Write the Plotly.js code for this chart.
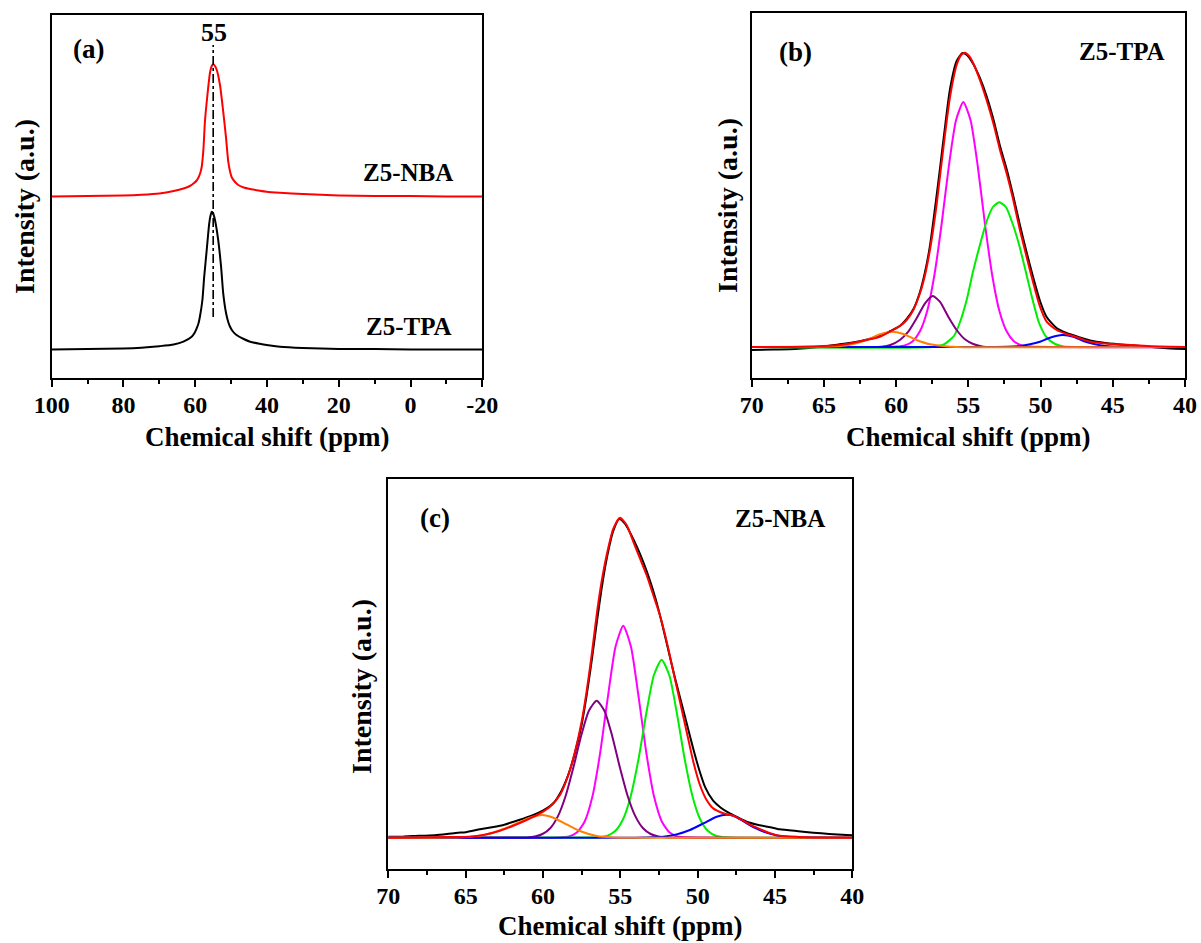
<!DOCTYPE html>
<html><head><meta charset="utf-8">
<script src="https://cdn.plot.ly/plotly-3.0.1.min.js"></script>
<style>html,body{margin:0;padding:0;background:#fff}#chart{width:1201px;height:943px}</style>
</head><body><div id="chart"></div>
<script>
// ---------- Panel (a): full spectra ----------
const aNbaX = [100,90,80,75,70,66,63.3,61.5,60.5,59.6,59.1,58.6,58.2,57.7,57.3,56.6,55.9,55.4,55.0,54.5,54.0,53.1,52.2,51.4,50.8,50.2,49.8,48.9,48.0,46.5,44.7,42,40.1,36.4,30,20,10,0,-10,-20];
const aNbaY = [181.5,182,182.5,183.2,184.5,187,189.5,192,194.5,197.5,200.5,205,211,229.7,256.3,283,305,312,313.7,312,308,293,266.3,239.7,216.3,205,200.5,196,193,190.5,189,187.3,186.3,185.3,184,182.5,182,182,181.5,181.5];
const aTpaX = [100,90,80,75,70,66,63.3,61.0,60.2,59.6,59.1,58.7,58.0,57.5,56.8,56.1,55.7,55.4,55.0,54.5,53.6,52.8,52.2,51.4,50.8,50.3,49.5,48.5,46.5,44.7,42,40.1,36.4,30,20,10,0,-10,-20];
const aTpaY = [28.5,29,29.5,30.3,31.8,33.5,36.3,41.3,45,49.7,54.5,61.3,78,101.3,128,154.7,163,166.3,164.5,158,138,111.3,84.7,64.7,56,51.3,46.5,43,39,36.3,34.2,33,31.3,30,29,29,28.5,28.5,28.5];
const aMarkX = [55,55];
const aMarkY = [61,333];
const aTickVals = [100,80,60,40,20,0,-20];
const aTickText = ['100','80','60','40','20','0','-20'];

// ---------- Panel (b): Z5-TPA deconvolution ----------
const bExpX = [70,68.5,67,66,65,64,63,62,61.1,60.4,59.7,59.27,58.8,58.35,58.0,57.66,57.2,56.97,56.6,56.27,55.81,55.4,55.1,54.66,54.2,53.74,53.27,52.81,52.35,51.89,51.43,50.97,50.5,50.04,49.58,48.89,48.2,47.27,46.58,45.5,44,43,42,41,40];
const bExpY = [-3,-2.5,-2,-1,0.5,2.5,4.5,7.5,11,16,21.5,28,38,55,75,101,151,178,222,258,286,294,292,283,269,251,228,201,178,151,122,95,69,46,30,19,14,9.5,6.5,4,2,1,-0.5,-1.5,-2];
const bFitX = [70,68,66.5,65,63.89,62.97,62.04,61.12,60.43,59.74,59.27,58.81,58.35,58.0,57.66,57.43,57.2,56.97,56.62,56.27,55.81,55.5,55.24,54.95,54.66,54.20,53.74,53.27,52.81,52.35,51.89,51.43,50.97,50.5,50.04,49.58,48.89,48.2,47.27,46.58,45.5,44.04,42.3,41,40];
const bFitY = [0,0,0.3,1,2,4.3,7,10.3,15.3,21,27,37,53.7,72,97,118,142,170,212,250,282,292,294.3,291,283.7,267,247,223.7,197,173.7,147,117,90.3,63.7,40.3,25.3,17,13,8.7,5.3,3.5,2.2,0.7,0.2,0];
const bMagX = [70,60,59.35,58.85,58.35,57.85,57.35,56.85,56.35,55.85,55.35,54.85,54.35,53.85,53.35,52.85,52.35,51.85,51.35,50.7,40];
const bMagY = [0,0.4,1.9,5.8,15.7,36,72,123,181,227,245,227,181,123,72,36,15.7,5.8,1.9,0.4,0];
const bGrnX = [70,57.5,56.7,56.0,55.6,55.1,54.7,54.2,53.75,53.3,52.86,52.4,52.0,51.5,51.0,50.6,50.1,49.6,49.0,48.4,47.5,40];
const bGrnY = [0,0,2.5,11,24,48,74,102,125,140,144.7,140,126,103,74,50,24,10,3,0.5,0,0];
const bPurX = [70,62,61.0,60.4,59.74,59.16,58.58,58.0,57.47,56.97,56.39,55.81,55.24,54.66,53.97,53,40];
const bPurY = [0,0,0.3,2,7,15.3,28.7,43.7,51,45.3,30.3,17,7.7,3,0.3,0,0];
const bBluX = [70,53.5,52.35,51.43,50.73,50.04,49.35,48.5,47.73,47.04,46.3,45.5,44.5,40];
const bBluY = [0,0,0.2,1,2.7,5.3,9.3,12,10.3,6,3,1,0.2,0];
const bOrgX = [70,66,63.89,62.97,62.04,61.12,60.31,59.5,58.58,57.66,56.74,55.81,40];
const bOrgY = [0,0.2,1,3,7,12.7,15.3,13,7,2.7,1,0,0];
const bcTickVals = [70,65,60,55,50,45,40];
const bcTickText = ['70','65','60','55','50','45','40'];

// ---------- Panel (c): Z5-NBA deconvolution ----------
const cExpX = [70,69,68.4,67,66.2,65.5,65,64.07,63.3,62.5,61.9,61.2,60.5,59.9,59.3,58.8,58.36,57.93,57.5,57.18,56.85,56.53,56.21,55.88,55.45,55.07,54.7,54.3,53.9,53.5,53.1,52.7,52.3,51.9,51.5,51.1,50.7,50.3,49.9,49.5,49.0,48.5,48.0,47.5,46.83,46,45.3,44.69,43.5,42.52,41.5,40.36,40];
const cExpY = [1,1.3,1.7,2.5,3.7,5,5.5,8.4,10.5,13,16,19.5,23.5,28,35,47,63,85,113,142,177,214,249,279,307,318.7,314,303,290,275,258,238,214,188,162,138,114,90,68,50,37,30,25,21,16,12.5,10.5,8.4,6.5,5,3.8,2.7,2.5];
const cFitX = [70,68,66,64.72,63.86,62.78,61.92,61.06,60.19,59.55,58.90,58.36,57.93,57.50,57.18,56.85,56.53,56.21,55.88,55.45,55.02,54.59,54.16,53.73,53.30,52.87,52.44,52.0,51.57,51.14,50.71,50.28,49.85,49.42,48.99,48.34,47.69,47.05,46.40,45.76,45.32,44.69,43.5,42.5,40];
const cFitY = [0,0.3,0.7,1,2.7,7,12,17.7,24.3,31,42.7,62.7,86,116,146,182.7,222.7,256,282.7,309,320,312.7,296,279.3,262.7,242.7,222.7,196,166,136,106,76,52.7,37.7,29.3,24.5,22,17,11.5,7.2,4.6,2,0.8,0.3,0];
const cMagX = [70,59,58.31,57.81,57.31,56.81,56.31,55.81,55.31,54.81,54.31,53.81,53.31,52.81,52.31,51.81,51.31,50.6,40];
const cMagY = [0,0.2,1.3,5.1,16,40.6,84,140,191,212,191,140,84,40.6,16,5.1,1.3,0.2,0];
const cGrnX = [70,56.8,56.33,55.83,55.33,54.83,54.33,53.83,53.33,52.83,52.33,51.83,51.33,50.83,50.33,49.83,49.33,48.83,48.3,40];
const cGrnY = [0,0.2,0.5,2,6.7,18.2,41.3,78,123.5,162.5,178,162.5,123.5,78,41.3,18.2,6.7,2,0.5,0];
const cPurX = [70,61.5,61.03,60.53,60.03,59.53,59.03,58.53,58.03,57.53,57.03,56.53,56.03,55.53,55.03,54.53,54.03,53.53,53.03,52.53,52.03,51.5,40];
const cPurY = [0,0.1,0.3,1.2,3.7,9.5,21.6,42,70.4,102,127,137,127,102,70.4,42,21.6,9.5,3.7,1.2,0.3,0.1,0];
const cBluX = [70,54,53.51,52.22,51.36,50.5,49.63,48.77,48.13,47.6,47.0,46.4,45.8,45.3,44.7,44,43,40];
const cBluY = [0,0,0.2,1,3.3,7.7,14.3,21,23,21.5,16,10.5,6.5,4,1.7,0.7,0.2,0];
const cOrgX = [70,66,64.72,63.64,62.57,61.70,60.84,60.05,59.33,58.47,57.61,56.53,55.45,54,40];
const cOrgY = [0,0.2,1,3.3,8.7,14.3,20,22.7,20,13.3,6.7,1.7,0.3,0,0];

const FONT = 'Liberation Serif, Times New Roman, serif';
const RED = '#ff0000', MAG = '#ff00ff', GRN = '#00ee00', PUR = '#800080', BLU = '#0000ff', ORG = '#ff8000';

function tr(x, y, color, ax, w) {
  return {x: x, y: y, type: 'scatter', mode: 'lines', xaxis: 'x' + ax, yaxis: 'y' + ax,
    line: {color: color, width: w || 2, shape: 'spline', smoothing: 0.6}, hoverinfo: 'skip', showlegend: false};
}

const traces = [
  tr(aNbaX, aNbaY, RED, ''), tr(aTpaX, aTpaY, '#000', ''),
  {x: aMarkX, y: aMarkY, type: 'scatter', mode: 'lines', xaxis: 'x', yaxis: 'y',
   line: {color: '#000', width: 1.6, dash: 'dashdot'}, showlegend: false, hoverinfo: 'skip'},
  tr(bExpX, bExpY, '#000', '2'),
  tr(bMagX, bMagY, MAG, '2'), tr(bGrnX, bGrnY, GRN, '2'), tr(bPurX, bPurY, PUR, '2'),
  tr(bBluX, bBluY, BLU, '2'), tr(bOrgX, bOrgY, ORG, '2'), tr(bFitX, bFitY, RED, '2'),
  tr(cExpX, cExpY, '#000', '3'),
  tr(cMagX, cMagY, MAG, '3'), tr(cGrnX, cGrnY, GRN, '3'), tr(cPurX, cPurY, PUR, '3'),
  tr(cBluX, cBluY, BLU, '3'), tr(cOrgX, cOrgY, ORG, '3'), tr(cFitX, cFitY, RED, '3')
];

function xax(domain, range, vals, text, minorStep, anchor) {
  return {domain: domain, range: range, anchor: anchor,
    tickmode: 'array', tickvals: vals, ticktext: text,
    ticks: 'outside', ticklen: 7, tickwidth: 2, tickcolor: '#000',
    showline: true, linewidth: 2, linecolor: '#000', mirror: true,
    showgrid: false, zeroline: false, ticklabelstandoff: -3,
    tickfont: {family: FONT, size: 24, weight: 'bold', color: '#000'},
    minor: {tickmode: 'linear', tick0: 0, dtick: minorStep, ticks: 'outside', ticklen: 4, tickwidth: 2, tickcolor: '#000', showgrid: false}};
}
function yax(domain, range, anchor) {
  return {domain: domain, range: range, anchor: anchor, showticklabels: false, ticks: '',
    showline: true, linewidth: 2, linecolor: '#000', mirror: true, showgrid: false, zeroline: false};
}

const W = 1201, H = 943;
const px = X => X / W, py = Y => 1 - Y / H;

function lab(text, X, Y, size, angle) {
  return {text: text, x: px(X), y: py(Y), xref: 'paper', yref: 'paper', showarrow: false,
    xanchor: 'center', yanchor: 'middle', textangle: angle || 0, borderpad: 0,
    font: {family: FONT, size: size, weight: 'bold', color: '#000'}};
}

const layout = {
  width: W, height: H, margin: {l: 0, r: 0, t: 0, b: 0},
  paper_bgcolor: '#fff', plot_bgcolor: '#fff', showlegend: false,
  xaxis: xax([px(51.7), px(482.3)], [100, -20], aTickVals, aTickText, 10, 'y'),
  yaxis: yax([py(378), py(15)], [0, 363], 'x'),
  xaxis2: xax([px(751.7), px(1185)], [70, 40], bcTickVals, bcTickText, 2.5, 'y2'),
  yaxis2: yax([py(378), py(13)], [-31, 334], 'x2'),
  xaxis3: xax([px(388.3), px(852.3)], [70, 40], bcTickVals, bcTickText, 2.5, 'y3'),
  yaxis3: yax([py(869.3), py(479)], [-31.6, 358.7], 'x3'),
  annotations: [
    lab('Chemical shift (ppm)', 267, 437, 27),
    lab('Chemical shift (ppm)', 968, 437, 27),
    lab('Chemical shift (ppm)', 620, 926, 27),
    lab('Intensity (a.u.)', 25, 207, 28, -90),
    lab('Intensity (a.u.)', 727, 206, 28, -90),
    lab('Intensity (a.u.)', 361, 687, 28, -90),
    lab('(a)', 88, 49, 27),
    lab('55', 214, 33, 26),
    lab('Z5-NBA', 408, 172, 25),
    lab('Z5-TPA', 409, 327, 25),
    lab('(b)', 795, 52, 27),
    lab('Z5-TPA', 1122, 52, 25),
    lab('(c)', 435, 518, 27),
    lab('Z5-NBA', 780, 518, 25)
  ]
};

Plotly.newPlot('chart', traces, layout, {staticPlot: true, displayModeBar: false});
</script>
</body></html>
